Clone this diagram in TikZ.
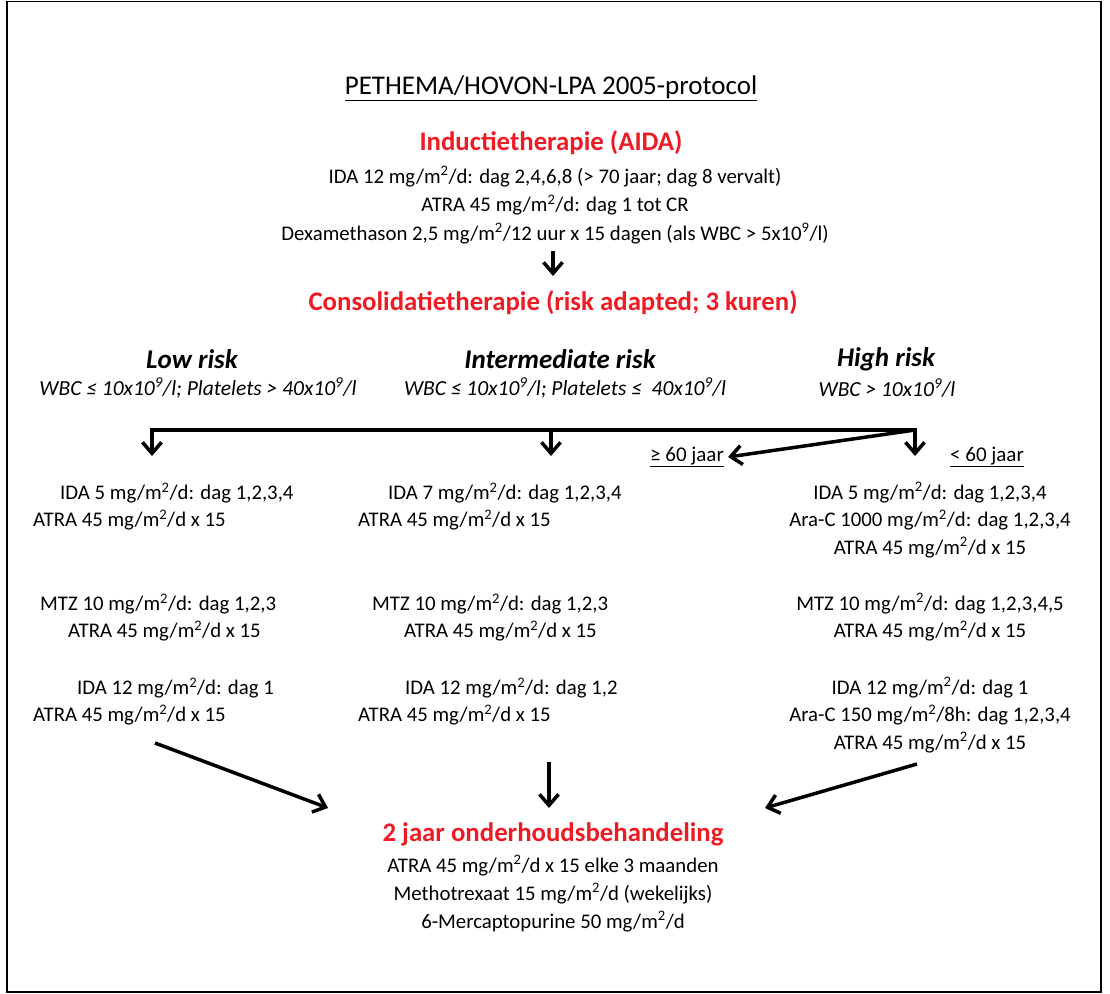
\documentclass[tikz,border=0pt]{standalone}
\usepackage{fontspec}
\setmainfont{Carlito}
\usetikzlibrary{positioning, arrows.meta}

\definecolor{headred}{RGB}{237,28,36}
\newcommand{\msq}{m\textsuperscript{2}}
\newcommand{\tenpow}{10\textsuperscript{9}}

\begin{document}
\begin{tikzpicture}[x=1pt, y=-1pt]
  \newcommand\colleft{152}
  \newcommand\colmid{551}
  \newcommand\colright{915}
  \newcommand\bary{430}

  \tikzset{bigarrow/.style={-{Straight Barb[length=11pt, width=19pt, line width=3.5pt]}, line width=3.5pt}}
  \tikzset{dose/.style={font=\fontsize{20.8}{27.5}\selectfont, inner sep=0pt, align=center}}
  \tikzset{doseleft/.style={dose, anchor=west}}
  \tikzset{phase/.style={font=\fontsize{26.8}{30}\selectfont\bfseries, text=headred, inner sep=0pt}}
  \tikzset{risk/.style={font=\fontsize{27}{30}\selectfont\bfseries\itshape, inner sep=0pt}}
  \tikzset{riskcrit/.style={font=\fontsize{21.5}{25}\selectfont\itshape, inner sep=0pt}}
  \tikzset{agelbl/.style={font=\fontsize{21}{25}\selectfont, inner sep=0pt}}

  \useasboundingbox (0,0) rectangle (1110,993);
  \draw[line width=1.3pt] (7,1.5) rectangle (1101,992);

  % title and induction
  \node[font=\fontsize{27}{30}\selectfont, inner sep=0pt] (title) at (551,88) {\underline{PETHEMA/HOVON-LPA 2005-protocol}};
  \node[phase] (induct) at (551,143) {Inductietherapie (AIDA)};
  \node[dose, anchor=north, font=\fontsize{20.8}{28.5}\selectfont] (inductdose) at (555,166) {IDA 12 mg/\msq/d: dag 2,4,6,8 (> 70 jaar; dag 8 vervalt)\\
    ATRA 45 mg/\msq/d: dag 1 tot CR\\
    Dexamethason 2,5 mg/\msq/12 uur x 15 dagen (als WBC > 5x\tenpow/l)};
  \node[phase] (consol) at (553,303) {Consolidatietherapie (risk adapted; 3 kuren)};
  \draw[bigarrow] (consol.north |- 0,251) coordinate (ca) -- (consol.north |- 0,276) coordinate (cb);

  % risk groups
  \foreach \name/\x/\cx/\lbl/\crit in {low/192/198/Low risk/{WBC ≤ 10x\tenpow/l; Platelets > 40x\tenpow/l},
      mid/560/565/Intermediate risk/{WBC ≤ 10x\tenpow/l; Platelets ≤\ \ 40x\tenpow/l},
      high/886/887/High risk/{WBC > 10x\tenpow/l}}{
    \node[risk] (risk-\name) at (\x,359) {\lbl};
    \node[riskcrit] (crit-\name) at (\cx,388) {\crit};
  }

  % splitting bar
  \coordinate (bar-left) at (\colleft,\bary);
  \coordinate (bar-mid) at (\colmid,\bary);
  \coordinate (bar-right) at (\colright,\bary);
  \draw[line width=3.5pt, line cap=rect] (bar-left) -- (bar-right);
  \foreach \col/\x in {left/\colleft, mid/\colmid, right/\colright}{
    \coordinate (tip-\col) at (\x,456);
    \draw[bigarrow] (bar-\col) -- (tip-\col);
  }
  \node[agelbl] (old) at (687,457) {\underline{≥ 60 jaar}};
  \node[agelbl] (young) at (987,457) {\underline{< 60 jaar}};
  \draw[bigarrow] (bar-right) -- ([xshift=4pt]old.east);

  % low risk courses
  \node[doseleft] (low-1a) at (60,493) {IDA 5 mg/\msq/d: dag 1,2,3,4};
  \node[doseleft] (low-1b) at (33,520) {ATRA 45 mg/\msq/d x 15};
  \node[doseleft] (low-2a) at (40,604) {MTZ 10 mg/\msq/d: dag 1,2,3};
  \node[doseleft] (low-2b) at (68,631) {ATRA 45 mg/\msq/d x 15};
  \node[doseleft] (low-3a) at (77,688) {IDA 12 mg/\msq/d: dag 1};
  \node[doseleft] (low-3b) at (33,715) {ATRA 45 mg/\msq/d x 15};

  % intermediate risk courses
  \node[doseleft] (mid-1a) at (388,493) {IDA 7 mg/\msq/d: dag 1,2,3,4};
  \node[doseleft] (mid-1b) at (358,520) {ATRA 45 mg/\msq/d x 15};
  \node[doseleft] (mid-2a) at (372,604) {MTZ 10 mg/\msq/d: dag 1,2,3};
  \node[doseleft] (mid-2b) at (404,631) {ATRA 45 mg/\msq/d x 15};
  \node[doseleft] (mid-3a) at (405,688) {IDA 12 mg/\msq/d: dag 1,2};
  \node[doseleft] (mid-3b) at (358,715) {ATRA 45 mg/\msq/d x 15};

  % high risk courses
  \node[dose, anchor=north] (high-1) at (930,482) {IDA 5 mg/\msq/d: dag 1,2,3,4\\
    Ara-C 1000 mg/\msq/d: dag 1,2,3,4\\
    ATRA 45 mg/\msq/d x 15};
  \node[dose, anchor=north] (high-2) at (930,593) {MTZ 10 mg/\msq/d: dag 1,2,3,4,5\\
    ATRA 45 mg/\msq/d x 15};
  \node[dose, anchor=north] (high-3) at (930,677) {IDA 12 mg/\msq/d: dag 1\\
    Ara-C 150 mg/\msq/8h: dag 1,2,3,4\\
    ATRA 45 mg/\msq/d x 15};

  % maintenance
  \node[phase] (maint) at (553,834) {2 jaar onderhoudsbehandeling};
  \node[dose, anchor=north, font=\fontsize{20.8}{28}\selectfont] (maintdose) at (553,855) {ATRA 45 mg/\msq/d x 15 elke 3 maanden\\
    Methotrexaat 15 mg/\msq/d (wekelijks)\\
    6-Mercaptopurine 50 mg/\msq/d};

  \coordinate (join-low) at (155,743);
  \coordinate (join-mid) at (549,762);
  \coordinate (join-high) at (917,764);
  \coordinate (end-low) at (328,808);
  \coordinate (end-mid) at (549,808);
  \coordinate (end-high) at (765,808);
  \foreach \col in {low, mid, high}{
    \draw[bigarrow] (join-\col) -- (end-\col);
  }
\end{tikzpicture}
\end{document}
